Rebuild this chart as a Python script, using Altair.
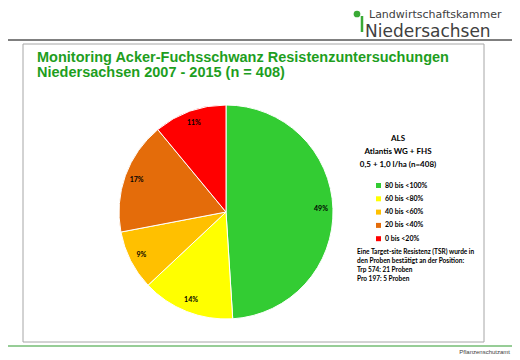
import altair as alt
import pandas as pd

categories = ["80 bis <100%", "60 bis <80%", "40 bis <60%", "20 bis <40%", "0 bis <20%"]
shares = [49, 14, 9, 17, 11]
colors = ["#33CC33", "#FFFF00", "#FFC000", "#E46C0A", "#FF0000"]

title_lines = ["Monitoring  Acker-Fuchsschwanz Resistenzuntersuchungen",
               "Niedersachsen 2007 - 2015 (n = 408)"]
header_text = "ALS\nAtlantis WG + FHS\n0,5 + 1,0 l/ha (n=408)"
note_text = ("Eine Target-site Resistenz (TSR) wurde in\n"
             "den Proben bestätigt an der Position:\n"
             "Trp 574: 21 Proben\nPro 197: 5 Proben")

df = pd.DataFrame({"cat": categories, "share": shares, "idx": list(range(len(shares)))})
df["label"] = df["share"].astype(str) + "%"

CX, CY = 218, 204

base = alt.Chart(df).encode(
    theta=alt.Theta("share:Q", stack=True),
    order=alt.Order("idx:Q"),
)

pie = base.mark_arc(outerRadius=107, stroke="white", strokeWidth=1).encode(
    x=alt.value(CX), y=alt.value(CY),
    color=alt.Color(
        "cat:N",
        scale=alt.Scale(domain=categories, range=colors),
        sort=categories,
        legend=alt.Legend(
            title=None, orient="none", legendX=367, legendY=174,
            symbolType="square", symbolSize=25, symbolStrokeWidth=0,
            labelFontSize=7, labelFont="Lato", labelFontWeight="bold",
            labelColor="black", rowPadding=5.3, labelOffset=3, padding=0,
        ),
    ),
)

labels = base.mark_text(radius=95, fontSize=7, fontWeight="bold", font="Lato",
                        color="black").encode(
    x=alt.value(CX), y=alt.value(CY), text="label:N")


def txt(t, x, y, **kw):
    return alt.Chart(pd.DataFrame({"t": [t]})).mark_text(**kw).encode(
        x=alt.value(x), y=alt.value(y), text="t:N")


def rule(x1, x2, y1, y2, color, w):
    return alt.Chart(pd.DataFrame({"a": [0]})).mark_rule(color=color, strokeWidth=w).encode(
        x=alt.value(x1), x2=alt.value(x2), y=alt.value(y1), y2=alt.value(y2))


box = alt.Chart(pd.DataFrame({"a": [0]})).mark_rect(
    fill=None, stroke="#A6A6A6", strokeWidth=1).encode(
    x=alt.value(15), x2=alt.value(476), y=alt.value(36), y2=alt.value(334))

dot = alt.Chart(pd.DataFrame({"a": [0]})).mark_point(
    filled=True, color="#3AAA35", size=45, opacity=1).encode(
    x=alt.value(349), y=alt.value(6))

layers = [
    box,
    rule(0, 504, 32, 32, "black", 1),
    rule(0, 504, 338, 338, "#2E9B2E", 1),
    rule(354, 354, 8, 24, "#3AAA35", 2.5),
    dot,
    txt("Landwirtschaftskammer", 361, 1, fontSize=11, font="DejaVu Sans",
        color="#404040", align="left", baseline="top"),
    txt("Niedersachsen", 357, 24, fontSize=17, font="DejaVu Sans",
        color="#404040", align="left", baseline="middle"),
    txt(title_lines[0], 29, 50, fontSize=14.5, font="Liberation Sans", fontWeight="bold",
        color="#1E9E1E", align="left", baseline="middle"),
    txt(title_lines[1], 29, 65, fontSize=14.5, font="Liberation Sans", fontWeight="bold",
        color="#1E9E1E", align="left", baseline="middle"),
    txt(header_text, 390, 131, fontSize=8, font="Lato", fontWeight="bold",
        color="black", align="center", baseline="middle", lineBreak="\n", lineHeight=13),
    txt(note_text, 349, 244, fontSize=6.5, font="Lato", fontWeight="bold",
        color="black", align="left", baseline="middle", lineBreak="\n", lineHeight=9),
    txt("Pflanzenschutzamt", 502, 344, fontSize=6, font="Liberation Sans",
        color="#404040", align="right", baseline="middle"),
    pie,
    labels,
]

chart = alt.layer(*layers).properties(
    width=504, height=350, padding=0, autosize=alt.AutoSizeParams(type="none")
).configure_view(stroke=None).resolve_scale(color="independent")

chart.save("out.html", embed_options={"renderer": "svg", "actions": False})
